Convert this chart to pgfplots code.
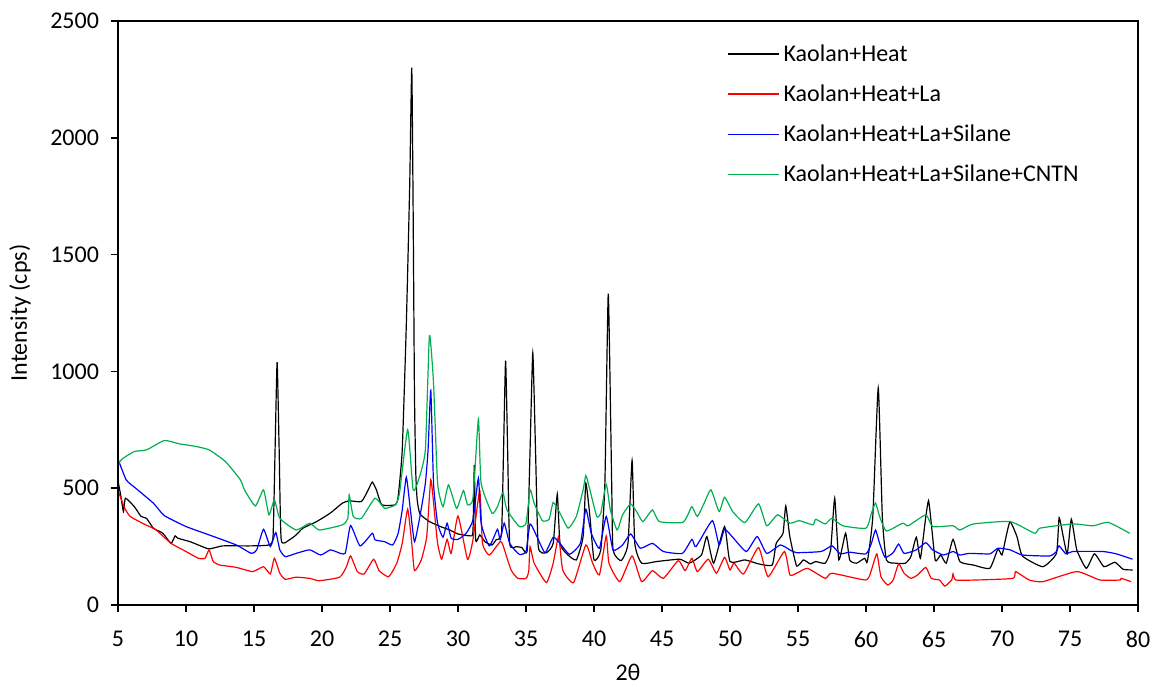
\documentclass[border=0pt]{standalone}
\usepackage{fontspec}
\setmainfont{Carlito}
\usepackage{pgfplots}
\pgfplotsset{compat=1.18}

\definecolor{xrdgreen}{RGB}{0,176,80}

\pgfplotstableread{
x y
5.0 530
5.2 470
5.4 400
5.55 457
6.2 421
6.7 379
7.1 371
7.6 329
8.3 307
8.9 264
9.2 296
9.4 286
10.3 271
10.9 257
11.7 240
12.7 253
14.7 253
16.1 257
16.4 293
16.55 664
16.7 1039
16.85 664
17.0 279
17.6 279
18.1 300
18.6 329
19.6 357
20.6 393
21.5 436
22.0 446
22.9 443
23.4 493
23.7 526
24.0 493
24.4 429
25.4 429
25.6 464
25.9 664
26.2 1200
26.45 1800
26.6 2300
26.7 1700
26.8 900
26.9 560
27.0 450
27.2 390
27.9 357
28.7 336
29.4 321
30.0 304
30.9 296
31.1 314
31.2 600
31.3 279
31.6 300
32.0 270
32.5 257
32.8 279
33.2 307
33.35 664
33.5 1046
33.65 664
33.8 264
34.3 250
34.7 246
34.9 229
35.1 243
35.3 664
35.5 1079
35.7 664
35.9 250
36.5 224
37.0 264
37.3 474
37.5 264
38.0 219
38.7 193
39.2 293
39.4 521
39.7 379
40.0 193
40.5 236
40.8 521
41.05 1333
41.3 521
41.4 236
42.0 190
42.5 264
42.8 619
43.0 264
43.5 179
44.6 186
46.3 196
47.0 179
47.9 214
48.3 293
48.8 179
49.6 336
50.0 186
51.1 193
52.1 176
53.1 171
53.4 264
53.9 307
54.1 424
54.4 293
54.9 167
55.4 193
55.9 176
56.3 186
57.0 179
57.4 236
57.7 457
58.0 193
58.5 307
58.8 193
59.3 179
59.9 200
60.1 186
60.5 379
60.9 929
61.2 379
61.5 193
62.2 179
62.9 179
63.3 207
63.7 290
64.0 200
64.4 379
64.6 447
64.8 350
65.1 190
65.5 214
65.9 179
66.4 281
66.9 186
67.9 171
69.1 157
69.7 239
70.0 214
70.3 293
70.6 357
71.1 293
71.5 210
73.0 164
74.0 221
74.2 374
74.5 293
74.8 219
75.1 367
75.5 236
76.2 157
76.8 219
77.5 164
78.3 183
78.9 153
79.6 150
}\heat

\pgfplotstableread{
x y
5.0 490
5.5 414
5.9 379
6.8 350
7.8 321
8.9 264
10.0 229
10.9 200
11.4 200
11.7 236
12.0 186
12.5 171
13.7 161
14.9 143
15.7 164
16.2 133
16.5 200
16.9 136
17.3 110
18.1 119
19.1 114
19.8 104
21.3 119
21.8 164
22.1 210
22.6 143
23.1 133
23.8 196
24.2 147
24.9 121
25.5 179
25.9 264
26.3 410
26.6 264
26.8 147
27.3 193
27.7 293
28.0 536
28.3 379
28.5 264
28.8 196
29.2 281
29.5 221
30.0 381
30.7 196
31.1 279
31.6 490
31.8 264
32.3 214
33.1 271
33.3 257
33.9 150
34.4 114
35.0 114
35.2 143
35.3 250
35.6 179
36.5 96
37.0 179
37.4 293
37.7 150
38.5 96
39.4 257
39.9 179
40.4 129
40.9 296
41.1 179
41.9 100
42.8 210
43.5 100
44.3 147
45.1 114
46.2 190
46.7 147
47.2 200
47.6 143
48.4 196
49.0 136
49.6 204
50.0 150
50.3 179
51.0 133
52.1 246
52.8 121
54.0 229
54.4 129
54.9 136
55.7 157
57.0 114
57.5 136
60.0 107
60.4 150
60.8 219
61.1 121
61.6 86
62.0 107
62.4 176
62.8 136
63.3 114
63.8 129
64.4 161
64.8 114
65.4 107
65.8 81
66.3 107
66.4 133
66.6 107
68.1 107
70.8 114
71.0 143
72.0 107
73.0 100
75.5 143
77.2 107
78.7 107
78.75 114
79.5 100
}\heatla

\pgfplotstableread{
x y
5.0 625
5.6 536
6.3 500
7.6 436
8.4 383
10.0 336
11.7 300
13.7 257
14.8 221
15.2 236
15.7 324
16.2 250
16.6 310
16.9 236
17.3 207
18.1 221
19.1 236
19.9 214
20.6 236
21.0 229
21.7 221
22.1 340
22.8 253
23.7 307
23.9 279
24.6 271
25.2 257
25.6 307
25.9 407
26.2 547
26.5 407
26.8 271
27.2 379
27.6 521
27.8 664
28.0 919
28.2 521
28.5 350
28.9 290
29.2 350
29.5 286
30.0 281
30.6 307
31.1 364
31.5 543
31.7 350
32.3 253
32.9 324
33.1 279
33.4 350
33.8 264
34.5 217
35.0 229
35.3 347
35.8 293
36.4 224
37.0 290
37.5 264
38.2 217
39.0 264
39.4 410
39.8 307
40.4 243
40.9 379
41.4 236
42.1 257
42.7 304
43.4 243
44.3 264
45.1 229
46.5 221
47.2 281
47.5 250
48.7 361
49.2 257
49.6 324
50.2 290
51.2 229
52.0 293
52.7 221
53.7 257
54.4 236
54.9 224
56.7 229
57.5 253
58.1 219
58.8 226
60.0 219
60.4 264
60.7 321
61.0 264
61.4 204
62.0 224
62.4 261
62.8 221
63.7 236
64.4 267
64.9 236
65.7 214
66.4 229
66.9 214
67.6 221
69.1 219
69.7 243
70.6 236
71.5 214
73.5 210
74.0 229
74.2 253
74.7 219
75.2 229
77.4 229
78.4 219
79.6 196
}\silane

\pgfplotstableread{
x y
5.0 600
5.3 625
6.2 657
7.1 664
8.4 704
9.5 690
10.7 679
11.7 664
12.9 614
14.0 536
14.3 493
15.1 424
15.7 493
16.1 386
16.5 450
16.9 371
18.1 321
19.1 350
19.8 321
21.5 343
21.9 371
22.0 471
22.3 379
22.9 371
23.9 457
24.6 414
25.4 429
25.7 479
26.3 750
26.7 493
27.1 536
27.6 664
27.9 1153
28.2 950
28.5 521
28.9 421
29.3 514
29.9 414
30.4 490
30.7 429
31.1 457
31.5 796
31.7 521
32.5 393
32.9 421
33.3 481
33.6 407
34.5 336
35.0 350
35.3 493
35.6 436
36.2 361
36.7 367
37.0 439
37.5 393
38.1 329
38.7 379
39.2 493
39.4 554
39.7 493
40.2 379
40.5 393
40.9 517
41.2 407
41.7 321
42.1 386
42.7 433
43.2 393
43.6 357
44.3 407
44.8 357
46.5 353
46.9 386
47.2 421
47.6 379
48.1 436
48.6 493
49.2 400
49.6 461
50.2 400
51.1 353
52.1 433
52.7 339
53.5 386
54.4 350
55.1 361
56.1 343
56.3 367
57.0 347
57.5 371
58.3 339
60.0 329
60.4 393
60.7 436
61.0 379
61.5 317
62.7 350
63.1 339
64.4 386
64.9 336
66.4 339
66.9 321
67.9 347
70.6 357
72.4 307
72.8 329
75.2 347
76.7 339
77.8 354
79.4 307
}\cntn

\begin{document}
\begin{tikzpicture}
\begin{axis}[
  scale only axis,
  width=510pt, height=292pt,
  xmin=5, xmax=80, ymin=0, ymax=2500,
  xtick={5,10,...,80}, ytick={0,500,...,2500},
  tick pos=left, tick align=outside,
  major tick length=3.5pt,
  tick style={black, line width=0.8pt},
  axis line style={black, line width=0.7pt},
  /pgf/number format/assume math mode=true,
  /pgf/number format/1000 sep={},
  tick label style={font=\fontsize{12}{14}\selectfont},
  xticklabel style={yshift=-6pt},
  yticklabel style={xshift=-2.5pt},
  xlabel={2θ}, ylabel={Intensity (cps)},
  label style={font=\fontsize{12}{14}\selectfont},
  xlabel style={at={(axis description cs:0.5,-0.1147)}, anchor=center},
  ylabel style={at={(axis description cs:-0.0961,0.5)}, anchor=center},
  legend style={draw=none, fill=none, at={(axis description cs:0.597,0.967)},
    anchor=north west, row sep=6.2pt, inner sep=0pt,
    font=\fontsize{12}{14}\selectfont},
  legend cell align=left,
  legend image code/.code={\draw[#1] (0pt,0.25pt) -- (25.5pt,0.25pt);},
  every axis plot/.append style={line width=0.6pt, smooth, tension=0.3},
]
\addplot[black] table {\heat};
\addplot[red] table {\heatla};
\addplot[blue] table {\silane};
\addplot[xrdgreen] table {\cntn};
\legend{Kaolan+Heat, Kaolan+Heat+La, Kaolan+Heat+La+Silane, Kaolan+Heat+La+Silane+CNTN}
\draw[black, line width=1.1pt] (rel axis cs:0,1) -- (rel axis cs:0,0) -- (rel axis cs:1,0);
\end{axis}
\path (current axis.south west) ++(-59pt,-39.5pt) rectangle ++(578.5pt,342pt);
\end{tikzpicture}
\end{document}
